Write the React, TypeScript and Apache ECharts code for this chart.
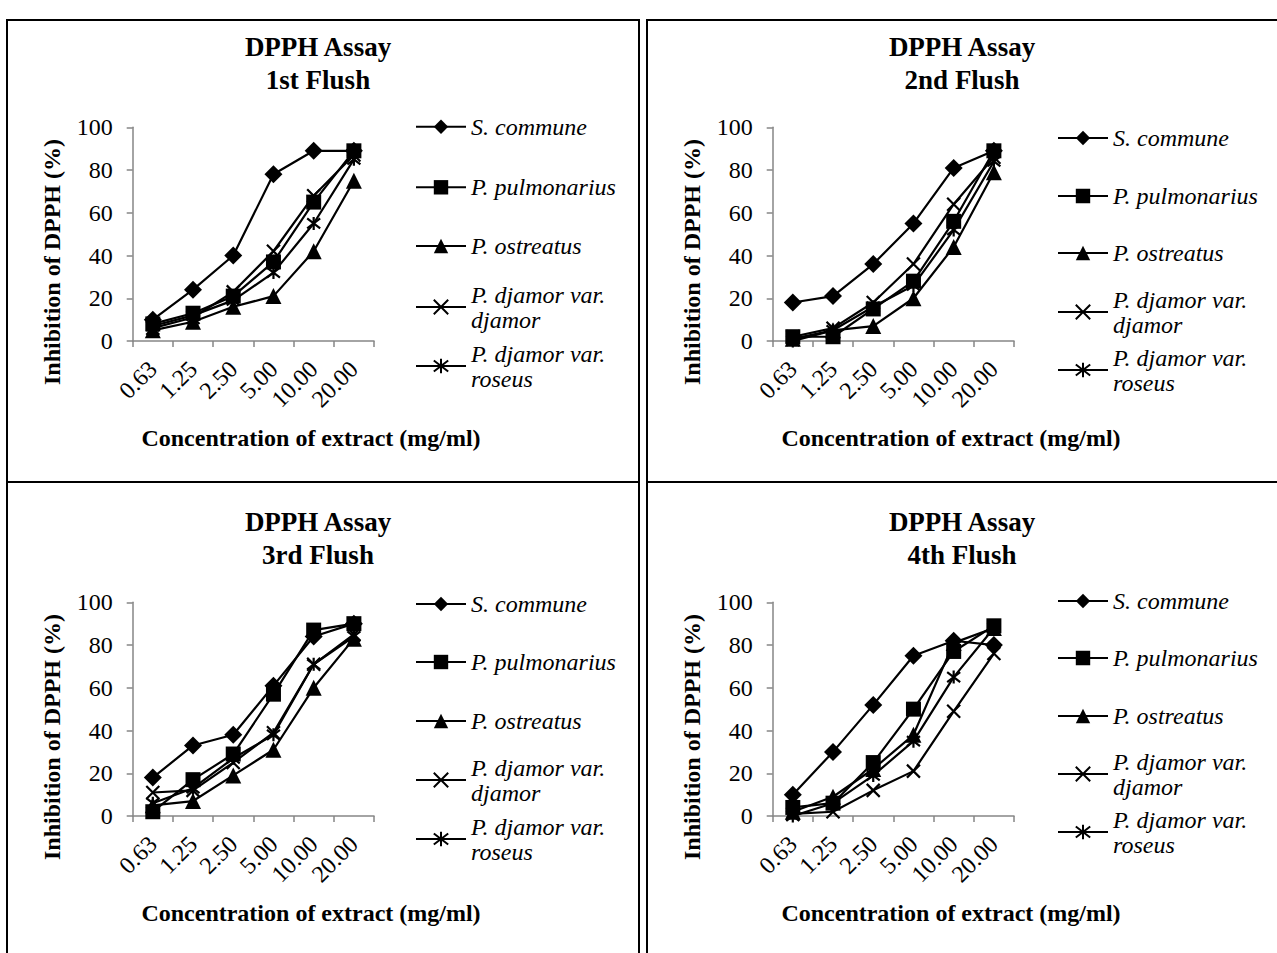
import React, { useEffect, useRef } from "react";
import * as echarts from "echarts";

// ---------- data ----------
const categories = ["0.63", "1.25", "2.50", "5.00", "10.00", "20.00"];
const seriesNames = [
  "S. commune",
  "P. pulmonarius",
  "P. ostreatus",
  "P. djamor var. djamor",
  "P. djamor var. roseus",
];
const legendLabels = [
  "S. commune",
  "P. pulmonarius",
  "P. ostreatus",
  "P. djamor var.\ndjamor",
  "P. djamor var.\nroseus",
];
const chartTitle = "DPPH Assay";
const flushTitles = ["1st Flush", "2nd Flush", "3rd Flush", "4th Flush"];
const yAxisTitle = "Inhibition of DPPH (%)";
const xAxisTitle = "Concentration of extract (mg/ml)";
const yTicks = { min: 0, max: 100, interval: 20 };

// 1st flush
const f1SCommune = [10, 24, 40, 78, 89, 89];
const f1PPulmonarius = [8, 13, 21, 37, 65, 89];
const f1POstreatus = [5, 9, 16, 21, 42, 75];
const f1PDjamor = [6, 11, 23, 42, 68, 87];
const f1PRoseus = [7, 12, 19, 32, 55, 85];
// 2nd flush
const f2SCommune = [18, 21, 36, 55, 81, 89];
const f2PPulmonarius = [2, 2, 15, 28, 56, 89];
const f2POstreatus = [1, 5, 7, 20, 44, 79];
const f2PDjamor = [2, 6, 18, 36, 64, 86];
const f2PRoseus = [0, 5, 16, 26, 52, 84];
// 3rd flush
const f3SCommune = [18, 33, 38, 61, 84, 90];
const f3PPulmonarius = [2, 17, 29, 57, 87, 90];
const f3POstreatus = [5, 7, 19, 31, 60, 83];
const f3PDjamor = [11, 12, 25, 39, 71, 85];
const f3PRoseus = [6, 13, 27, 38, 71, 84];
// 4th flush
const f4SCommune = [10, 30, 52, 75, 82, 80];
const f4PPulmonarius = [4, 6, 25, 50, 77, 89];
const f4POstreatus = [2, 9, 22, 38, 81, 88];
const f4PDjamor = [1, 2, 12, 21, 49, 76];
const f4PRoseus = [0, 6, 19, 35, 65, 88];

const flushData = [
  [f1SCommune, f1PPulmonarius, f1POstreatus, f1PDjamor, f1PRoseus],
  [f2SCommune, f2PPulmonarius, f2POstreatus, f2PDjamor, f2PRoseus],
  [f3SCommune, f3PPulmonarius, f3POstreatus, f3PDjamor, f3PRoseus],
  [f4SCommune, f4PPulmonarius, f4POstreatus, f4PDjamor, f4PRoseus],
];

// ---------- styling / layout ----------
const FONT = '"Liberation Serif", "Times New Roman", serif';
const CROSS = "path://M0,0L10,10M10,0L0,10";
const STAR = "path://M0,0L10,10M10,0L0,10M5,-1.5L5,11.5";
const symbols = ["diamond", "rect", "triangle", CROSS, STAR];
const symbolSizes = [18, 15, 16, 13, 13];

const panels = [
  { dx: 0, dy: 0, tx: 318, legendLeft: 415, rows: [126.7, 187.3, 246, 307, 366] },
  { dx: 640, dy: 0, tx: 962, legendLeft: 1057, rows: [138, 196, 253, 312, 370] },
  { dx: 0, dy: 475, tx: 318, legendLeft: 415, rows: [604, 662, 721, 780, 839] },
  { dx: 640, dy: 475, tx: 962, legendLeft: 1057, rows: [601, 658, 716, 774, 832] },
];

function buildOption() {
  const grid: any[] = [];
  const xAxis: any[] = [];
  const yAxis: any[] = [];
  const series: any[] = [];
  const legend: any[] = [];
  const graphic: any[] = [];

  panels.forEach((p, pi) => {
    grid.push({ left: 132.7 + p.dx, top: 127.3 + p.dy, width: 241.3, height: 213.7 });
    xAxis.push({
      type: "category",
      gridIndex: pi,
      data: categories,
      boundaryGap: true,
      axisLine: { lineStyle: { color: "#868686", width: 1.5 } },
      axisTick: { show: true, inside: false, length: 6, interval: 0, lineStyle: { color: "#868686", width: 1.5 } },
      axisLabel: { interval: 0, rotate: 45, margin: 24, color: "#000", fontFamily: FONT, fontSize: 24 },
      splitLine: { show: false },
    });
    yAxis.push({
      type: "value",
      gridIndex: pi,
      min: yTicks.min,
      max: yTicks.max,
      interval: yTicks.interval,
      axisLine: { show: true, lineStyle: { color: "#868686", width: 1.5 } },
      axisTick: { show: true, inside: false, length: 6, lineStyle: { color: "#868686", width: 1.5 } },
      axisLabel: { margin: 20, color: "#000", fontFamily: FONT, fontSize: 24 },
      splitLine: { show: false },
    });
    seriesNames.forEach((name, si) => {
      const isLineSym = si >= 3;
      series.push({
        type: "line",
        name,
        xAxisIndex: pi,
        yAxisIndex: pi,
        data: flushData[pi][si],
        symbol: symbols[si],
        symbolSize: symbolSizes[si],
        color: "#000",
        lineStyle: { color: "#000", width: 2.2 },
        itemStyle: {
          color: "#000",
          borderColor: "#000",
          borderWidth: isLineSym ? 2.2 : 0,
        },
        emphasis: { disabled: true },
        z: 2 + si,
      });
      const twoLine = legendLabels[si].includes("\n");
      legend.push({
        show: true,
        data: [{ name }],
        left: p.legendLeft,
        top: p.rows[si] - (twoLine ? 37.5 : 12.5),
        orient: "horizontal",
        itemWidth: 50,
        itemHeight: 18,
        padding: 0,
        selectedMode: false,
        formatter: legendLabels[si],
        textStyle: {
          fontFamily: FONT,
          fontSize: 24,
          fontStyle: "italic",
          color: "#000",
          lineHeight: 25,
          padding: twoLine ? [25, 0, 0, 0] : 0,
        },
      });
    });
    graphic.push(
      {
        type: "text",
        x: p.tx,
        y: 47 + p.dy,
        style: { text: chartTitle, fontFamily: FONT, fontSize: 27, fontWeight: "bold", fill: "#000", align: "center", verticalAlign: "middle" },
      },
      {
        type: "text",
        x: p.tx,
        y: 80 + p.dy,
        style: { text: flushTitles[pi], fontFamily: FONT, fontSize: 27, fontWeight: "bold", fill: "#000", align: "center", verticalAlign: "middle" },
      },
      {
        type: "text",
        x: 52 + p.dx,
        y: 262 + p.dy,
        rotation: Math.PI / 2,
        style: { text: yAxisTitle, fontFamily: FONT, fontSize: 24, fontWeight: "bold", fill: "#000", align: "center", verticalAlign: "middle" },
      },
      {
        type: "text",
        x: 311 + p.dx,
        y: 438 + p.dy,
        style: { text: xAxisTitle, fontFamily: FONT, fontSize: 24, fontWeight: "bold", fill: "#000", align: "center", verticalAlign: "middle" },
      }
    );
  });

  return {
    animation: false,
    backgroundColor: "transparent",
    textStyle: { fontFamily: FONT },
    grid,
    xAxis,
    yAxis,
    series,
    legend,
    graphic,
  };
}

export default function App() {
  const ref = useRef<HTMLDivElement>(null);
  useEffect(() => {
    if (!ref.current) return;
    const chart = echarts.init(ref.current, undefined, { renderer: "svg" });
    chart.setOption(buildOption() as any);
    return () => chart.dispose();
  }, []);

  const border = "2px solid #000";
  return (
    <div style={{ position: "absolute", left: 0, top: 0, width: 1277, height: 953, overflow: "hidden", background: "#fff" }}>
      <div style={{ position: "absolute", left: 6, top: 19, width: 634, height: 464, boxSizing: "border-box", borderLeft: border, borderRight: border, borderTop: border, borderBottom: border }} />
      <div style={{ position: "absolute", left: 646, top: 19, width: 660, height: 464, boxSizing: "border-box", borderLeft: border, borderTop: border, borderBottom: border }} />
      <div style={{ position: "absolute", left: 6, top: 481, width: 634, height: 500, boxSizing: "border-box", borderLeft: border, borderRight: border }} />
      <div style={{ position: "absolute", left: 646, top: 481, width: 660, height: 500, boxSizing: "border-box", borderLeft: border }} />
      <div ref={ref} style={{ position: "absolute", left: 0, top: 0, width: 1277, height: 953 }} />
    </div>
  );
}
